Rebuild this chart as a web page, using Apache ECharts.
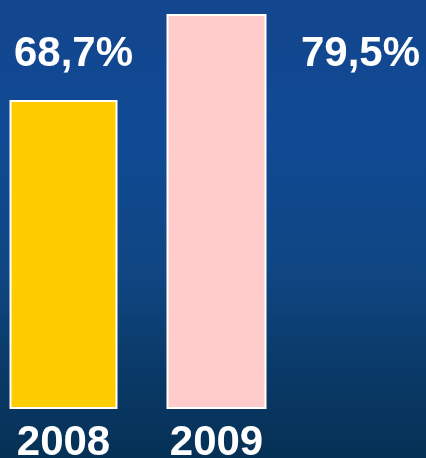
<!DOCTYPE html>
<html>
<head>
<meta charset="utf-8">
<script src="https://cdn.jsdelivr.net/npm/echarts@6/dist/echarts.min.js"></script>
<style>
  html, body { margin: 0; padding: 0; }
  #chart { width: 426px; height: 458px; }
</style>
</head>
<body>
<div id="chart"></div>
<script>
const years = ['2008', '2009']
const values = [68.7, 79.5]
const labels = ['68,7%', '79,5%']

const myChart = echarts.init(document.getElementById('chart'))

const labelStyle = {
  show: true,
  color: '#ffffff',
  fontFamily: 'Liberation Sans',
  fontWeight: 'bold',
  fontSize: 42,
  align: 'center',
  verticalAlign: 'middle'
}

const option = {
  backgroundColor: new echarts.graphic.LinearGradient(0, 0, 0, 1, [
    { offset: 0, color: '#13468e' },
    { offset: 0.3, color: '#104a94' },
    { offset: 0.6, color: '#0f4682' },
    { offset: 0.8, color: '#0a3a68' },
    { offset: 1, color: '#063156' }
  ]),
  grid: { left: -13, width: 306, top: 10, bottom: 50, containLabel: false, outerBoundsMode: 'none' },
  xAxis: [
    {
      type: 'category',
      data: years,
      axisLine: { show: false },
      axisTick: { show: false },
      axisLabel: {
        color: '#ffffff',
        fontFamily: 'Liberation Sans',
        fontWeight: 'bold',
        fontSize: 42,
        margin: 14
      }
    },
    {
      // second axis only so the 2009 bar can have its own width
      type: 'category',
      data: years,
      show: false
    }
  ],
  yAxis: {
    type: 'value',
    min: 30,
    max: 80,
    show: false,
    splitLine: { show: false }
  },
  series: [
    {
      type: 'bar',
      xAxisIndex: 0,
      barWidth: 108,
      data: [values[0], '-'],
      itemStyle: { color: '#ffcc00', borderColor: '#ffffff', borderWidth: 2 },
      label: Object.assign({}, labelStyle, {
        position: [64, -46],
        formatter: () => labels[0]
      })
    },
    {
      type: 'bar',
      xAxisIndex: 1,
      barWidth: 100,
      data: ['-', values[1]],
      itemStyle: { color: '#ffcccc', borderColor: '#ffffff', borderWidth: 2 },
      label: Object.assign({}, labelStyle, {
        position: [194, 40],
        formatter: () => labels[1]
      })
    }
  ]
}

myChart.setOption(option)
</script>
</body>
</html>
